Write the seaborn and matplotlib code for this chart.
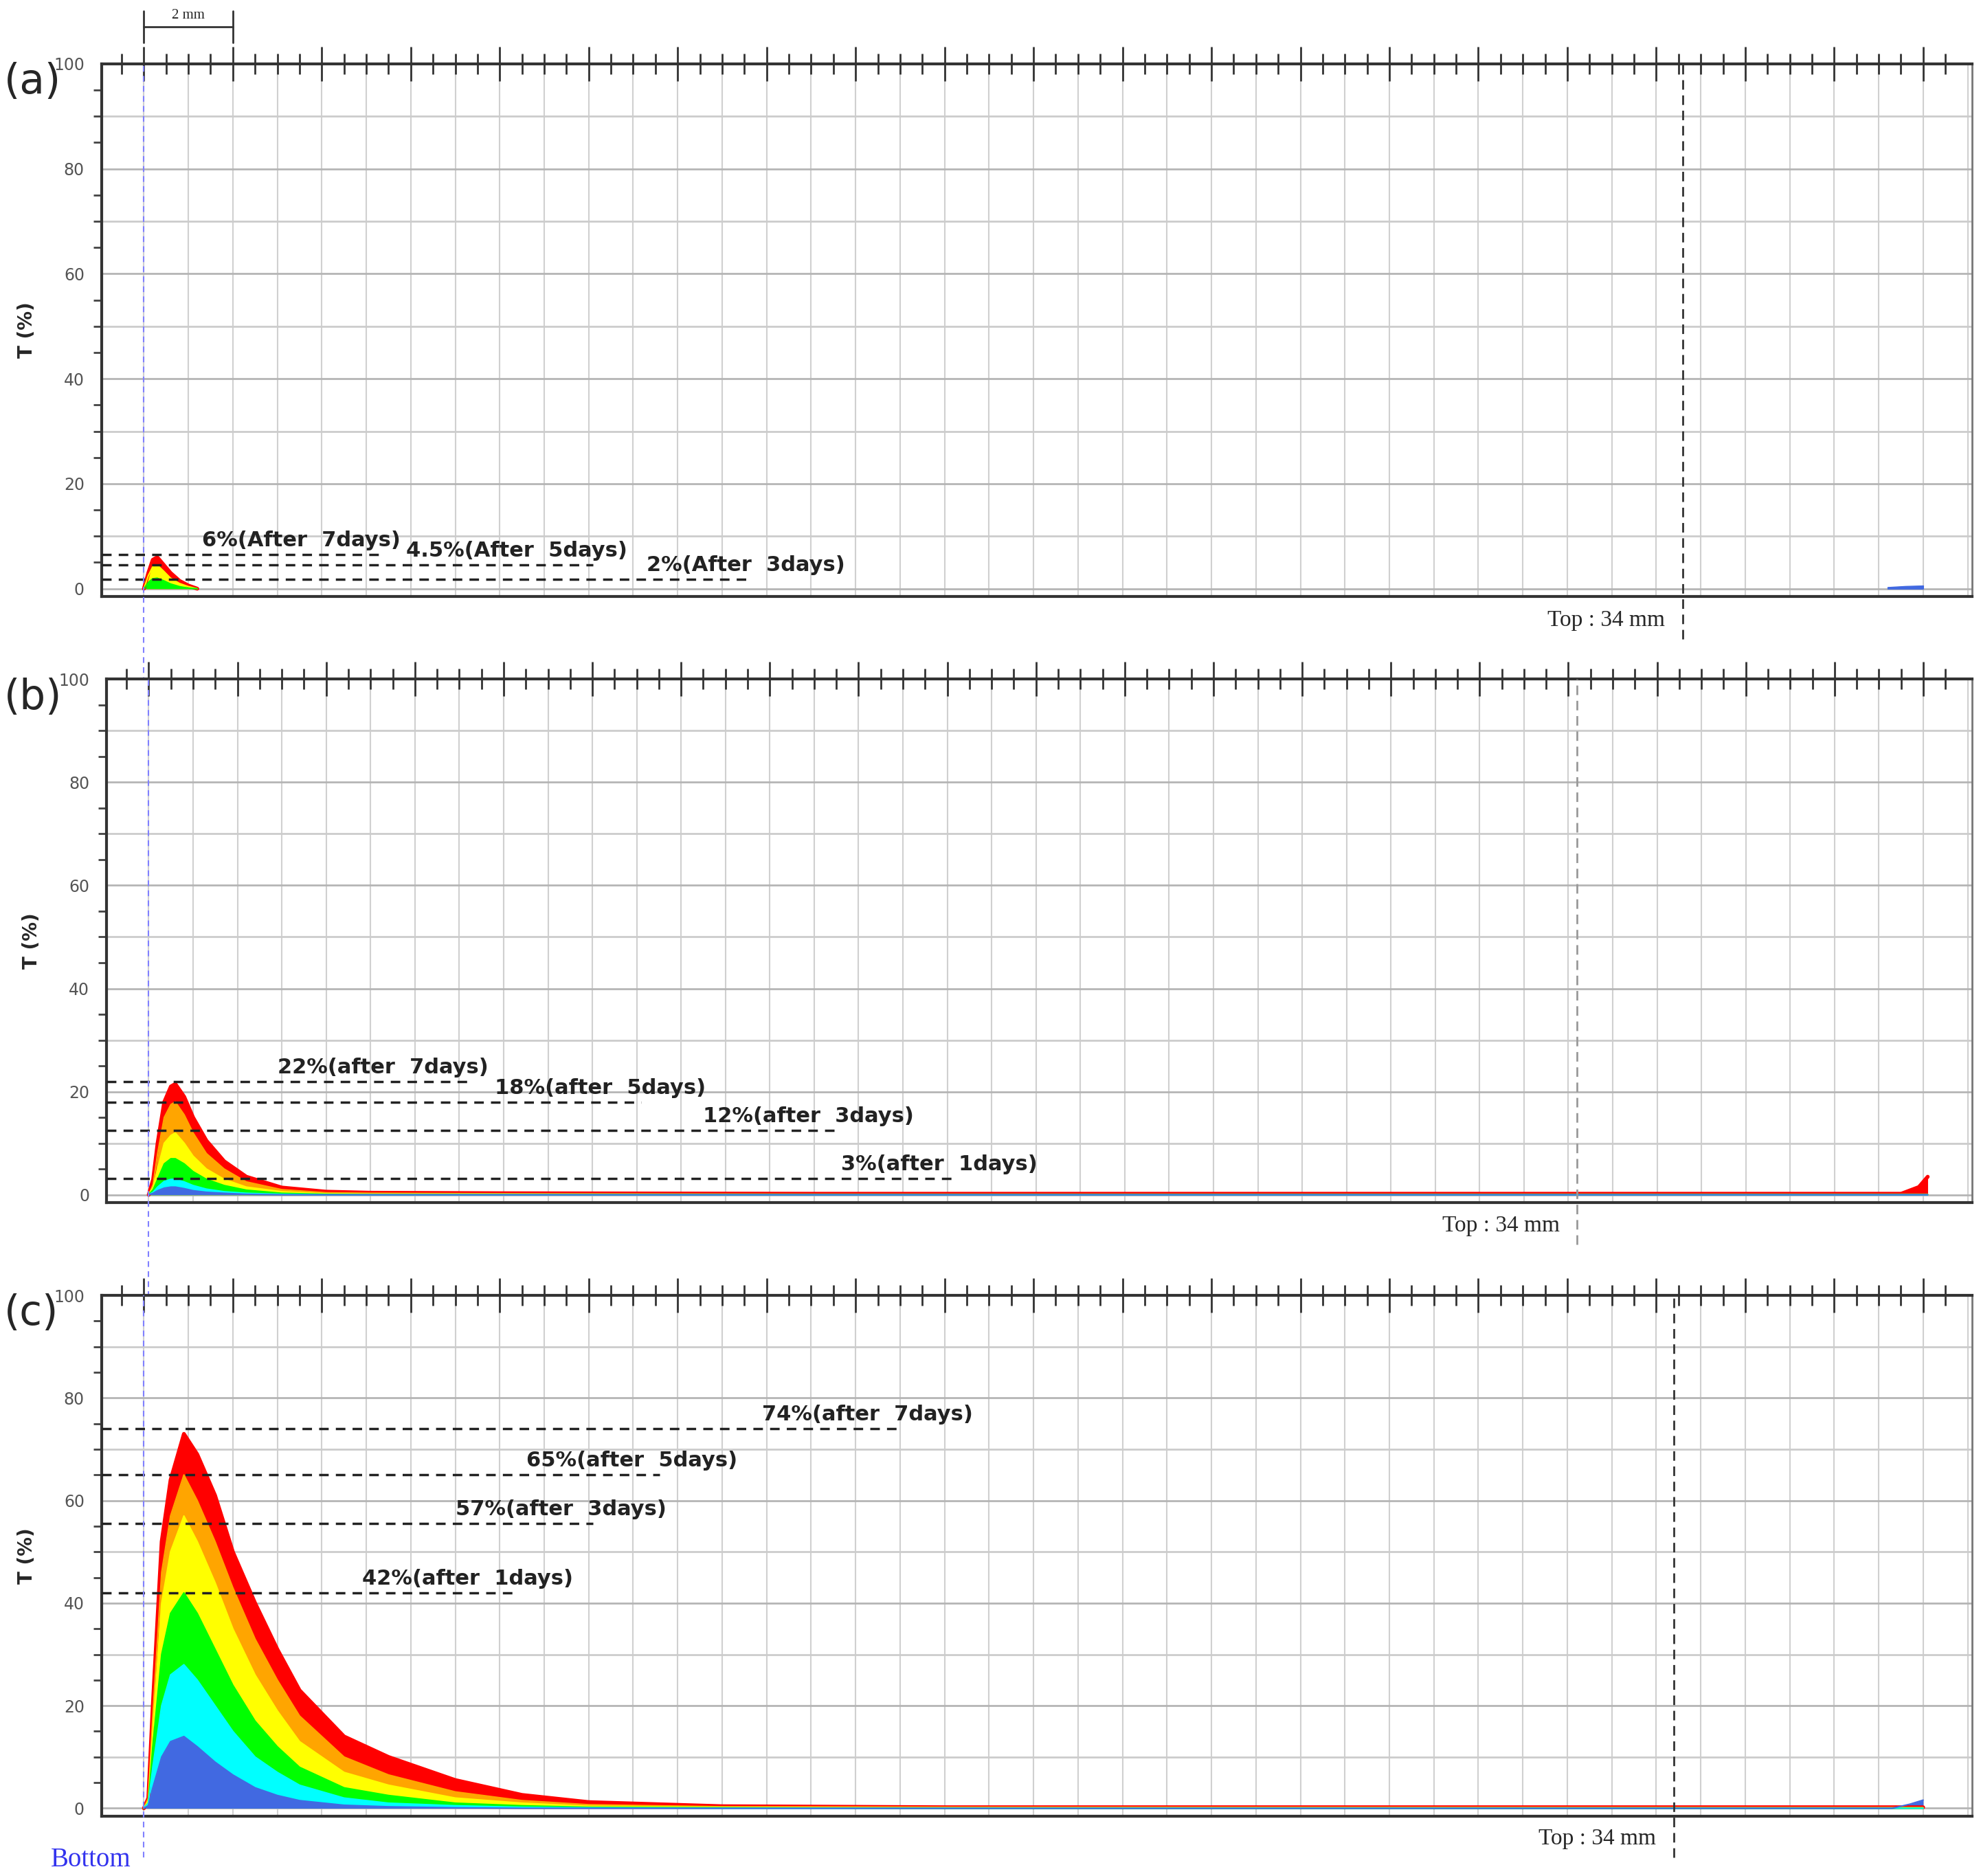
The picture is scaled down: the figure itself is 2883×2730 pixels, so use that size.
import numpy as np
import pandas as pd
import seaborn as sns
import matplotlib.pyplot as plt
from matplotlib.ticker import MultipleLocator

sns.set_style('white')
plt.rcParams['font.family'] = ['DejaVu Sans']

# x in mm measured from the cell bottom
x_a = [0, 0.1, 0.2, 0.3, 0.45, 0.6, 0.8, 1.0, 1.2]
curves_a = {
    'red':    [0, 3.0, 5.5, 6.0, 4.5, 3.0, 1.5, 0.6, 0],
    'yellow': [0, 2.5, 4.2, 4.5, 3.3, 2.0, 1.0, 0.4, 0],
    'lime':   [0, 1.2, 1.9, 2.0, 1.5, 0.9, 0.4, 0.1, 0],
}
x_b = [0, 0.1, 0.2, 0.35, 0.5, 0.6, 0.8, 1.0, 1.3, 1.7, 2.2, 3, 4, 5, 8, 15, 25, 39.5, 39.9, 40.1]
curves_b = {
    'red':     [0, 3, 10, 18, 21, 21.5, 19, 15, 10.5, 6.5, 3.5, 1.4, 0.6, 0.4, 0.3, 0.2, 0.2, 0.2, 1.5, 3.5],
    'orange':  [0, 2, 8, 15, 17.5, 18, 15.5, 12, 8, 5, 2.5, 1, 0.4, 0.3, 0.2, 0.1, 0.1, 0.1, 0.1, 0.1],
    'yellow':  [0, 1.5, 5, 10, 11.5, 12, 10, 7.5, 5, 3, 1.5, 0.6, 0.2, 0.1, 0.1, 0, 0, 0, 0, 0],
    'lime':    [0, 1, 3, 6, 7, 7, 6, 4.5, 3, 1.8, 0.9, 0.3, 0.1, 0, 0, 0, 0, 0, 0, 0],
    'cyan':    [0, 0.5, 1.5, 2.6, 3, 3, 2.5, 1.8, 1.1, 0.6, 0.3, 0.1, 0, 0, 0, 0, 0, 0, 0, 0],
    'royalblue': [0, 0.3, 0.8, 1.3, 1.5, 1.5, 1.2, 0.8, 0.5, 0.3, 0.1, 0, 0, 0, 0, 0, 0, 0, 0, 0],
}
x_c = [0, 0.1, 0.2, 0.4, 0.6, 0.9, 1.2, 1.6, 2.0, 2.5, 3.0, 3.5, 4.5, 5.5, 7, 8.5, 10, 13, 18, 39.3, 39.7, 40.0]
curves_c = {
    'red':     [0, 2, 20, 52, 64, 73, 69, 61, 50, 40, 31, 23, 14, 10, 5.5, 2.6, 1.2, 0.4, 0.2, 0.2, 0.2, 0.2],
    'orange':  [0, 2, 18, 46, 57, 65, 60, 52, 43, 33, 25, 18, 10, 6.5, 3.2, 1.5, 0.7, 0.3, 0.2, 0.1, 0.1, 0.1],
    'yellow':  [0, 1.5, 15, 40, 50, 57, 52, 44, 35, 26, 19, 13, 7, 4.5, 2, 1, 0.4, 0.2, 0.1, 0.1, 0.1, 0.1],
    'lime':    [0, 1, 12, 30, 38, 42, 38, 31, 24, 17, 12, 8, 4, 2.5, 1, 0.5, 0.2, 0.1, 0, 0, 0, 0],
    'cyan':    [0, 1, 8, 20, 26, 28, 25, 20, 15, 10, 7, 4.5, 2, 1, 0.5, 0.2, 0.1, 0, 0, 0, 0, 0],
    'royalblue': [0, 0.5, 4, 10, 13, 14, 12, 9, 6.5, 4, 2.5, 1.5, 0.6, 0.3, 0.1, 0, 0, 0, 0, 0, 0.8, 1.6],
}
end_bump_a = ([39.2, 39.6, 40.0], [0.3, 0.5, 0.6])

# reference levels: value, line end (mm), label x (mm), label
levels_a = [(6.5, 5.3, 1.3, '6%(After  7days)'), (4.5, 10.1, 5.9, '4.5%(After  5days)'),
            (1.8, 13.6, 11.3, '2%(After  3days)')]
levels_b = [(22, 7.2, 2.9, '22%(after  7days)'), (18, 11.1, 7.8, '18%(after  5days)'),
            (12.5, 15.6, 12.5, '12%(after  3days)'), (3.2, 18.2, 15.6, '3%(after  1days)')]
levels_c = [(74, 17.0, 13.9, '74%(after  7days)'), (65, 11.6, 8.6, '65%(after  5days)'),
            (55.5, 10.1, 7.0, '57%(after  3days)'), (42, 8.3, 4.9, '42%(after  1days)')]
top_mm = [34.6, 32.2, 34.4]
top_color = ['#333333', '#999999', '#333333']
letters = ['(a)', '(b)', '(c)']

fig = plt.figure(figsize=(28.83, 27.3), dpi=100)
rects = [[0.0513, 0.682, 0.9442, 0.284], [0.0538, 0.359, 0.9417, 0.279], [0.0513, 0.032, 0.9442, 0.2775]]
panels = [(x_a, curves_a, levels_a), (x_b, curves_b, levels_b), (x_c, curves_c, levels_c)]
serif = ['Liberation Serif', 'DejaVu Serif']

for i, (rect, (xs, curves, levels)) in enumerate(zip(rects, panels)):
    ax = fig.add_axes(rect)
    ax.set_xlim(-0.95, 41.1)
    ax.set_ylim(-1.5, 100)
    for x in np.arange(0, 41.1, 1):
        ax.axvline(x, color='#d0d0d0', lw=1.5, zorder=0)
    for y in range(0, 101, 10):
        ax.axhline(y, color='#cccccc' if y % 20 else '#b5b5b5', lw=2, zorder=0)
    for name in curves:
        ax.fill_between(xs, curves[name], 0, color=name, lw=0, zorder=2)
        df = pd.DataFrame({'x': xs, 'y': curves[name]})
        sns.lineplot(data=df, x='x', y='y', ax=ax, color=name,
                     lw=4 if name == 'red' else 1.5, zorder=3, estimator=None)
    if i == 0:
        ax.fill_between(end_bump_a[0], end_bump_a[1], 0, color='royalblue', zorder=3)
    for val, xend, xlab, lab in levels:
        ax.plot([-0.95, xend], [val, val], ls=(0, (4, 3)), color='#222222', lw=2.5, zorder=4)
        ax.text(xlab, val + 0.8, lab, fontsize=22, fontweight='bold', color='#222222',
                va='bottom', zorder=5)
    ax.axvline(0, color='#8080ff', ls=(0, (4, 3)), lw=1.5, ymin=-0.2 if i < 2 else -0.08,
               ymax=1, clip_on=False, zorder=4)
    ax.axvline(top_mm[i], color=top_color[i], ls=(0, (5, 3)), lw=2, ymin=-0.08, ymax=1,
               clip_on=False, zorder=4)
    ax.text(top_mm[i] - 0.4, -6, 'Top : 34 mm', fontsize=24, family=serif,
            ha='right', va='center')
    ax.set_xlabel('')
    ax.set_ylabel('T (%)', fontsize=20, fontweight='bold', labelpad=18)
    ax.yaxis.set_major_locator(MultipleLocator(20))
    ax.yaxis.set_minor_locator(MultipleLocator(5))
    ax.tick_params(axis='y', which='major', length=14, width=2, labelsize=17,
                   labelcolor='#555555', color='#444444', pad=4)
    ax.tick_params(axis='y', which='minor', length=9, width=2, color='#444444', left=True)
    ax.set_xticks(np.arange(0, 41, 2))
    ax.set_xticks(np.arange(-0.5, 41, 0.5), minor=True)
    ax.tick_params(axis='x', which='both', bottom=False, labelbottom=False, top=True,
                   direction='inout', color='#333333', width=2)
    ax.tick_params(axis='x', which='major', length=36)
    ax.tick_params(axis='x', which='minor', length=22)
    for side in ['left', 'top', 'bottom']:
        ax.spines[side].set_color('#333333')
        ax.spines[side].set_linewidth(3)
    ax.spines['right'].set_color('#777777')
    ax.spines['right'].set_linewidth(2)
    fig.text(0.002, rect[1] + rect[3] + 0.001, letters[i], fontsize=43, va='top', ha='left')
    if i == 0:
        ax.plot([0, 2], [107, 107], color='#333333', lw=2, clip_on=False)
        ax.plot([0, 0], [104, 110], color='#333333', lw=2, clip_on=False)
        ax.plot([2, 2], [104, 110], color='#333333', lw=2, clip_on=False)
        ax.text(1, 108, '2 mm', fontsize=15, family=serif, ha='center', va='bottom')
    if i == 2:
        ax.text(-2.1, -10, 'Bottom', fontsize=28, family=serif, color='#3333ee',
                va='center')

fig.savefig('out.png', dpi=100)
